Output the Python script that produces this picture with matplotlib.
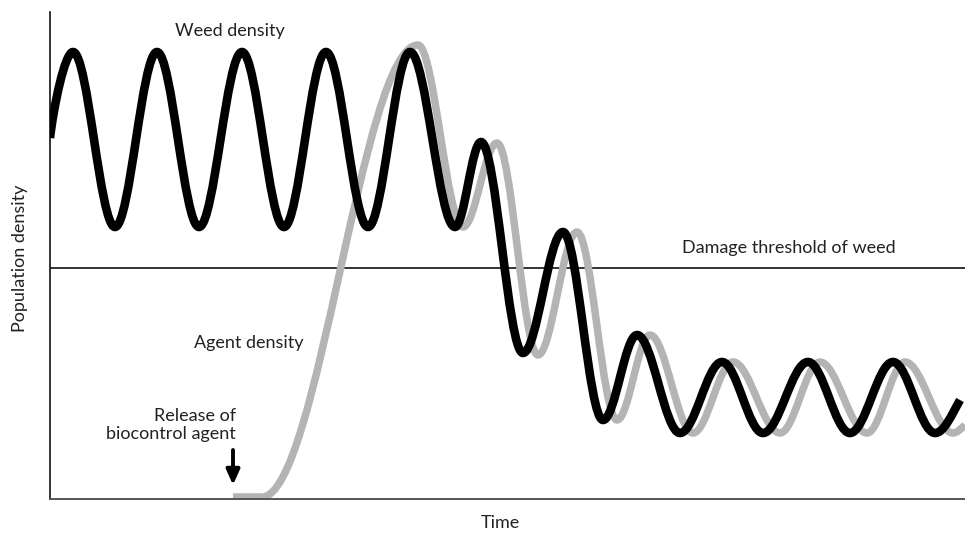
import matplotlib
matplotlib.use("Agg")
import matplotlib.pyplot as plt
from matplotlib.path import Path
from matplotlib.patches import PathPatch

# ---- data (time units, density units) ----
weed_t = [0, 23, 65, 107, 149, 192, 234, 276, 318, 360, 405, 431, 473, 513,
          553, 587, 630, 672, 713, 758, 800, 843, 885, 910]
weed_y = [361, 447, 272, 447, 272, 447, 272, 447, 272, 447, 272, 357, 146, 267,
          79, 164, 66, 137, 66, 137, 66, 137, 66, 99]

agent_t = [183, 212, 368, 413, 447, 488, 527, 567, 600, 643, 683, 730, 770,
           817, 855, 903, 915]
agent_y = [2, 2, 454, 272, 356, 144, 267, 79, 164, 66, 137, 66, 137, 66, 137,
           66, 74]

threshold = 231
x_max = 915
y_max = 487

labels = {
    "weed": "Weed density",
    "threshold": "Damage threshold of weed",
    "agent": "Agent density",
    "release": "Release of\nbiocontrol agent",
    "xlabel": "Time",
    "ylabel": "Population density",
}


def smooth_path(xs, ys, k=0.36):
    """Cubic Bezier path through the read extrema, horizontal tangents at the
    extrema, the last point keeps the slope of the incoming segment."""
    verts = [(xs[0], ys[0])]
    codes = [Path.MOVETO]
    n = len(xs)
    for i in range(n - 1):
        x0, y0, x1, y1 = xs[i], ys[i], xs[i + 1], ys[i + 1]
        dx = x1 - x0
        if y0 == y1:
            verts.append((x1, y1))
            codes.append(Path.LINETO)
            continue
        c1 = (x0 + k * dx, y0)
        if i == 0 and xs[0] == 0:
            c1 = (x0 + 0.15 * dx, y0 + (y1 - y0) * 0.35)
        if i == n - 2:
            c2 = (x1 - dx / 3.0, y1 - (y1 - y0) * 0.45)
        else:
            c2 = (x1 - k * dx, y1)
        verts += [c1, c2, (x1, y1)]
        codes += [Path.CURVE4] * 3
    return Path(verts, codes)


plt.rcParams['font.family'] = ['Lato', 'DejaVu Sans']
fig = plt.figure(figsize=(9.65, 5.34), dpi=100)
ax = fig.add_axes([50 / 965, 35 / 534, 915 / 965, 487 / 534])
ax.set_xlim(0, x_max)
ax.set_ylim(0, y_max)

for s in ("top", "right"):
    ax.spines[s].set_visible(False)
ax.spines["left"].set_color("#111111")
ax.spines["bottom"].set_color("#555555")
ax.spines["left"].set_linewidth(1.2)
ax.spines["bottom"].set_linewidth(1.4)
ax.set_xticks([])
ax.set_yticks([])

ax.axhline(threshold, color="#111111", lw=1.2, zorder=1)

agent_patch = PathPatch(smooth_path(agent_t, agent_y), fill=False,
                        edgecolor="#b4b4b4", lw=5.4, capstyle="butt",
                        joinstyle="round", zorder=2)
ax.add_patch(agent_patch)
weed_patch = PathPatch(smooth_path(weed_t, weed_y), fill=False,
                       edgecolor="#000000", lw=6.2, capstyle="butt",
                       joinstyle="round", zorder=3)
ax.add_patch(weed_patch)

fs = 13
tc = "#222222"
ax.text(180, 468, labels["weed"], ha="center", va="center", fontsize=fs,
        color=tc)
ax.text(739, 251, labels["threshold"], ha="center", va="center", fontsize=fs,
        color=tc)
ax.text(199, 156, labels["agent"], ha="center", va="center", fontsize=fs,
        color=tc)
ax.text(186, 74, labels["release"], ha="right", va="center", fontsize=fs,
        color=tc, linespacing=1.15)
ax.annotate("", xy=(183, 14), xytext=(183, 49),
            arrowprops=dict(arrowstyle="-|>,head_width=0.4,head_length=0.9",
                            color="black", lw=2.8, shrinkA=0, shrinkB=0))

fig.text(500 / 965, 1 - 523 / 534, labels["xlabel"], ha="center", va="center",
         fontsize=fs, color=tc)
fig.text(20 / 965, 1 - 258 / 534, labels["ylabel"], ha="center", va="center",
         rotation=90, fontsize=fs, color=tc)

fig.savefig("out.png", dpi=100)
